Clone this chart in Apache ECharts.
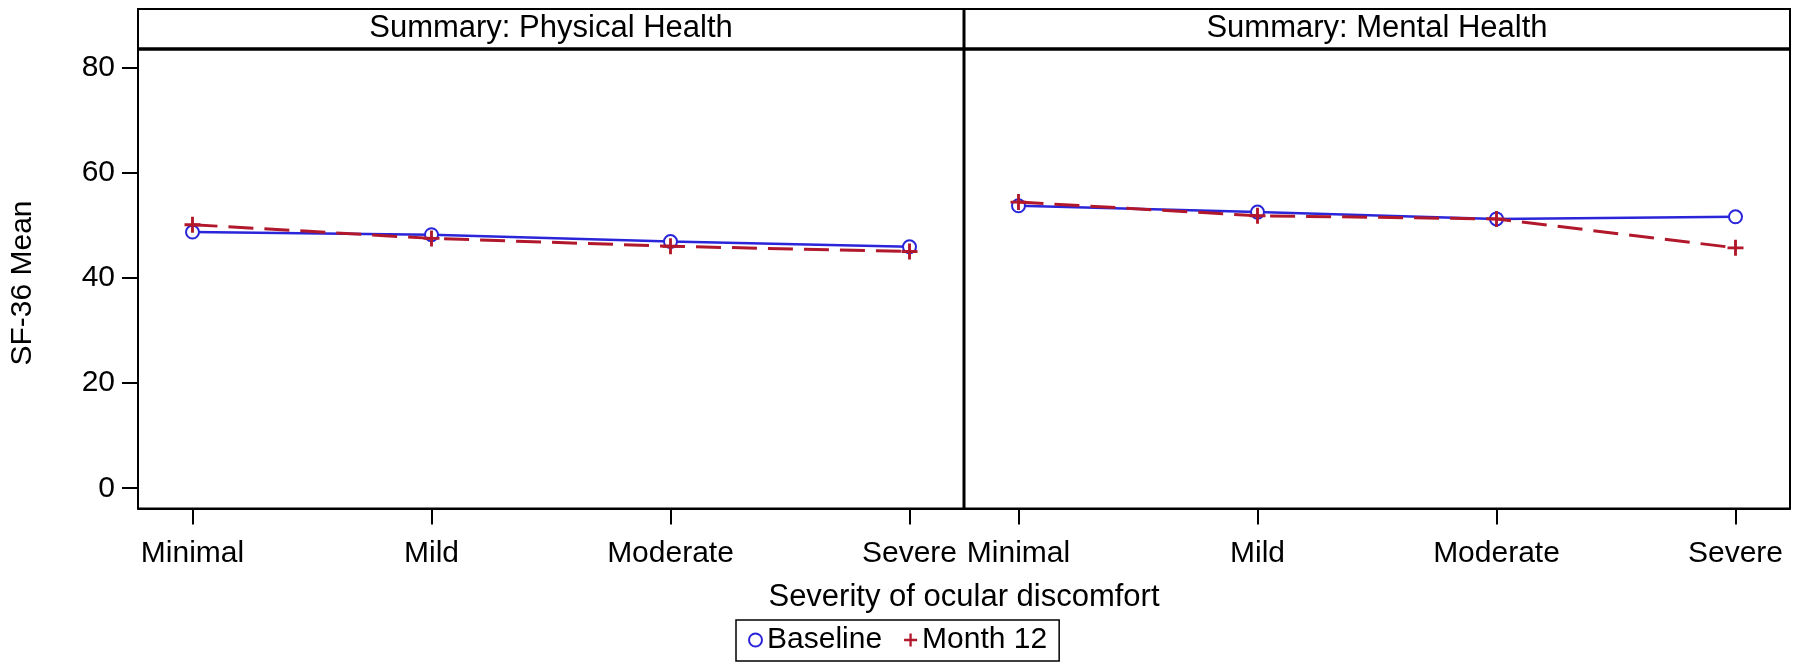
<!DOCTYPE html>
<html>
<head>
<meta charset="utf-8">
<script src="https://cdn.jsdelivr.net/npm/echarts@6/dist/echarts.min.js"></script>
<style>
html,body{margin:0;padding:0;background:#fff;}
#chart{width:1800px;height:666px;}
</style>
</head>
<body>
<div id="chart"></div>
<script>
const categories = ['Minimal', 'Mild', 'Moderate', 'Severe'];
const physicalBaseline = [48.7, 48.2, 46.9, 45.9];
const physicalMonth12 = [50.1, 47.5, 46.0, 45.0];
const mentalBaseline = [53.7, 52.5, 51.2, 51.6];
const mentalMonth12 = [54.4, 51.8, 51.2, 45.7];
const yTicks = [0, 20, 40, 60, 80];
const panelTitles = ['Summary: Physical Health', 'Summary: Mental Health'];
const xTitle = 'Severity of ocular discomfort';
const yTitle = 'SF-36 Mean';
const seriesNames = ['Baseline', 'Month 12'];

const FONT = '"Liberation Sans", Arial, Helvetica, sans-serif';
const BLUE = '#2A25D9';
const RED = '#B2182B';
const PLUS = 'path://M4.1,0h1.8v4.1h4.1v1.8h-4.1v4.1h-1.8v-4.1h-4.1v-1.8h4.1z';
const catIdx = categories.map((c, i) => i);

const G = {top: 49, height: 459.5, width: 826, left0: 138, left1: 964};
const chart = echarts.init(document.getElementById('chart'), null, {renderer: 'canvas'});

function xAxis(gi) {
  return {
    type: 'value', gridIndex: gi, min: -0.228, max: 3.228,
    axisLine: {show: true, onZero: false, lineStyle: {color: '#000', width: 2}},
    axisTick: {show: true, customValues: catIdx, length: 16, lineStyle: {color: '#000', width: 2}},
    axisLabel: {show: true, customValues: catIdx, margin: 30, color: '#000', fontSize: 30, fontFamily: FONT,
      formatter: v => categories[Math.round(v)]},
    splitLine: {show: false}
  };
}
function yAxis(gi, showLabels) {
  return {
    type: 'value', gridIndex: gi, min: -3.85, max: 83.5,
    axisLine: {show: false, onZero: false},
    axisTick: {show: showLabels, customValues: yTicks, length: 16, lineStyle: {color: '#000', width: 2}},
    axisLabel: {show: showLabels, customValues: yTicks, margin: 23, color: '#000', fontSize: 30, fontFamily: FONT},
    splitLine: {show: false}
  };
}
function pts(arr) { return arr.map((v, i) => [i, v]); }
function baseSeries(gi, arr) {
  return {
    name: seriesNames[0], type: 'line', xAxisIndex: gi, yAxisIndex: gi, data: pts(arr),
    symbol: 'emptyCircle', symbolSize: 13, showAllSymbol: true,
    itemStyle: {color: BLUE, borderColor: BLUE, borderWidth: 2.5},
    lineStyle: {color: BLUE, width: 2.5},
    emphasis: {disabled: true}, animation: false, z: 2
  };
}
function monthSeries(gi, arr) {
  return {
    name: seriesNames[1], type: 'line', xAxisIndex: gi, yAxisIndex: gi, data: pts(arr),
    symbol: PLUS, symbolSize: 16,
    itemStyle: {color: RED},
    lineStyle: {color: RED, width: 3, type: [25, 11]},
    emphasis: {disabled: true}, animation: false, z: 3
  };
}

const option = {
  animation: false,
  backgroundColor: '#fff',
  grid: [
    {left: G.left0, top: G.top, width: G.width, height: G.height, show: true, borderColor: '#000', borderWidth: 2, backgroundColor: 'transparent'},
    {left: G.left1, top: G.top, width: G.width, height: G.height, show: true, borderColor: '#000', borderWidth: 2, backgroundColor: 'transparent'}
  ],
  xAxis: [xAxis(0), xAxis(1)],
  yAxis: [yAxis(0, true), yAxis(1, false)],
  legend: {
    left: 736, top: 620,
    data: [{name: seriesNames[0], icon: 'emptyCircle'}, {name: seriesNames[1], icon: PLUS}],
    itemWidth: 13, itemHeight: 13, itemGap: 22,
    borderColor: '#000', borderWidth: 1.5, padding: [5, 12, 6, 12],
    textStyle: {fontSize: 30, color: '#000', fontFamily: FONT},
    selectedMode: false
  },
  graphic: [
    {type: 'rect', shape: {x: G.left0, y: 9, width: 2 * G.width, height: G.top - 9},
      style: {fill: '#fff', stroke: '#000', lineWidth: 2}, z: 10},
    {type: 'line', shape: {x1: G.left0, y1: G.top, x2: G.left0 + 2 * G.width, y2: G.top},
      style: {stroke: '#000', lineWidth: 3.5}, z: 11},
    {type: 'line', shape: {x1: G.left1, y1: 9, x2: G.left1, y2: G.top + G.height},
      style: {stroke: '#000', lineWidth: 3}, z: 11},
    {type: 'text', x: G.left0 + G.width / 2, y: 28, z: 12,
      style: {text: panelTitles[0], fontSize: 31, fontFamily: FONT, fill: '#000', textAlign: 'center', textVerticalAlign: 'middle'}},
    {type: 'text', x: G.left1 + G.width / 2, y: 28, z: 12,
      style: {text: panelTitles[1], fontSize: 31, fontFamily: FONT, fill: '#000', textAlign: 'center', textVerticalAlign: 'middle'}},
    {type: 'text', x: G.left1, y: 597, z: 12,
      style: {text: xTitle, fontSize: 31, fontFamily: FONT, fill: '#000', textAlign: 'center', textVerticalAlign: 'middle'}},
    {type: 'text', x: 23, y: 283, rotation: Math.PI / 2, z: 12,
      style: {text: yTitle, fontSize: 30, fontFamily: FONT, fill: '#000', textAlign: 'center', textVerticalAlign: 'middle'}}
  ],
  series: [
    baseSeries(0, physicalBaseline), monthSeries(0, physicalMonth12),
    baseSeries(1, mentalBaseline), monthSeries(1, mentalMonth12)
  ]
};
chart.setOption(option);
</script>
</body>
</html>
